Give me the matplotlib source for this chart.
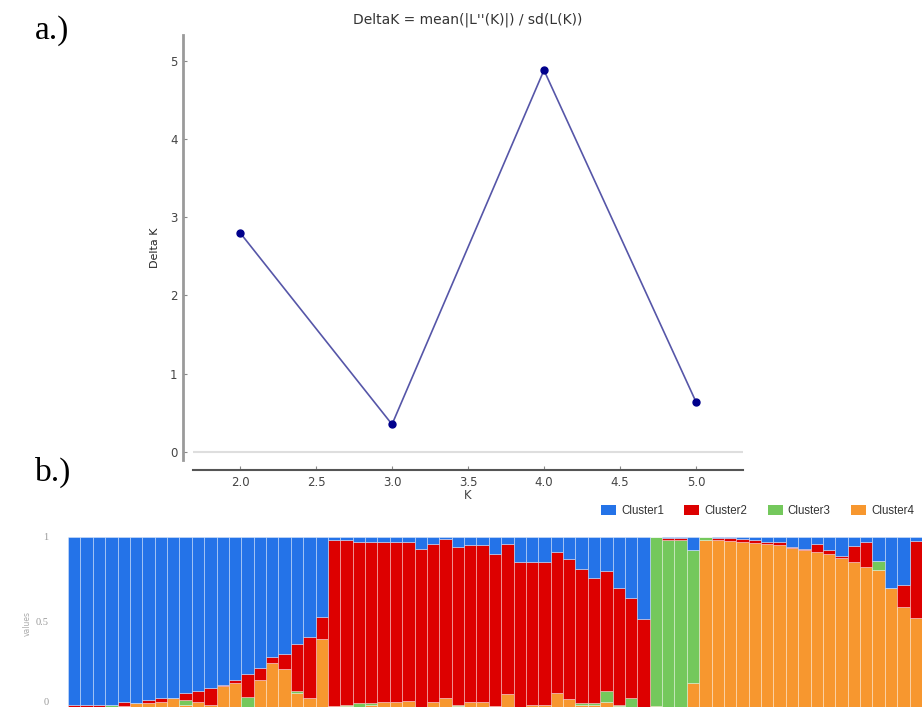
import matplotlib
matplotlib.use("Agg")
import matplotlib.pyplot as plt
from matplotlib.patches import Patch
import numpy as np

# a.) Evanno DeltaK values
k_values = [2.0, 3.0, 4.0, 5.0]
delta_k = [2.80, 0.35, 4.88, 0.64]
x_ticks = [2.0, 2.5, 3.0, 3.5, 4.0, 4.5, 5.0]
y_ticks = [0, 1, 2, 3, 4, 5]

# b.) membership proportions per individual (69 bars)
cluster_names = ["Cluster1", "Cluster2", "Cluster3", "Cluster4"]
cluster_colors = ["#2473e8", "#dd0000", "#74c85c", "#f7972f"]

cluster1 = [0.99, 0.99, 0.99, 0.99, 0.97, 0.98, 0.96, 0.95, 0.95, 0.92,
            0.91, 0.89, 0.87, 0.84, 0.81, 0.77, 0.71, 0.69, 0.63, 0.59,
            0.47,
            0.02, 0.02, 0.03, 0.03, 0.03, 0.03, 0.03, 0.075, 0.04, 0.015,
            0.06, 0.05, 0.05, 0.10, 0.04, 0.15, 0.15, 0.15, 0.09, 0.13,
            0.19, 0.24, 0.20, 0.30, 0.36, 0.485,
            0.00, 0.01, 0.01, 0.08,
            0.00, 0.01, 0.01, 0.015, 0.02, 0.03, 0.03, 0.06, 0.07, 0.045,
            0.08, 0.113, 0.055, 0.029, 0.141, 0.304, 0.285, 0.023]
cluster2 = [0.01, 0.01, 0.01, 0.00, 0.025, 0.00, 0.02, 0.025, 0.00, 0.04,
            0.06, 0.10, 0.01, 0.02, 0.13, 0.07, 0.035, 0.09, 0.28, 0.36,
            0.13,
            0.975, 0.97, 0.95, 0.95, 0.94, 0.94, 0.935, 0.925, 0.93, 0.935,
            0.93, 0.92, 0.92, 0.895, 0.885, 0.85, 0.84, 0.84, 0.83, 0.825,
            0.79, 0.74, 0.71, 0.69, 0.59, 0.515,
            0.00, 0.01, 0.01, 0.00,
            0.00, 0.01, 0.015, 0.015, 0.015, 0.013, 0.02, 0.005, 0.01, 0.045,
            0.024, 0.014, 0.092, 0.147, 0.00, 0.00, 0.131, 0.457]
cluster3 = [0.00, 0.00, 0.00, 0.01, 0.00, 0.00, 0.00, 0.00, 0.00, 0.03,
            0.00, 0.00, 0.00, 0.00, 0.06, 0.00, 0.00, 0.00, 0.01, 0.00,
            0.00,
            0.00, 0.005, 0.02, 0.01, 0.00, 0.00, 0.00, 0.00, 0.00, 0.00,
            0.005, 0.00, 0.00, 0.00, 0.00, 0.00, 0.00, 0.00, 0.00, 0.00,
            0.01, 0.01, 0.06, 0.005, 0.05, 0.00,
            0.995, 0.98, 0.98, 0.78,
            0.02, 0.00, 0.00, 0.00, 0.00, 0.00, 0.00, 0.00, 0.00, 0.00,
            0.00, 0.00, 0.00, 0.00, 0.055, 0.00, 0.00, 0.00]
cluster4 = [0.00, 0.00, 0.00, 0.00, 0.005, 0.02, 0.02, 0.025, 0.05, 0.01,
            0.03, 0.01, 0.12, 0.14, 0.00, 0.16, 0.255, 0.22, 0.08, 0.05,
            0.40,
            0.005, 0.005, 0.00, 0.01, 0.03, 0.03, 0.035, 0.00, 0.03, 0.05,
            0.005, 0.03, 0.03, 0.005, 0.075, 0.00, 0.01, 0.01, 0.08, 0.045,
            0.01, 0.01, 0.03, 0.005, 0.00, 0.00,
            0.005, 0.00, 0.00, 0.14,
            0.98, 0.98, 0.975, 0.97, 0.965, 0.957, 0.95, 0.935, 0.92, 0.91,
            0.896, 0.873, 0.853, 0.824, 0.804, 0.696, 0.584, 0.52]

W, H = 922, 708
fig = plt.figure(figsize=(W / 100, H / 100), dpi=100)

# ---- a.) DeltaK line plot
ax = fig.add_axes([193 / W, 1 - 460 / H, 550 / W, 425 / H])
ax.axhline(0, color="#dedede", lw=1.5, zorder=1)
ax.plot(k_values, delta_k, color="#5656a8", lw=1.2, zorder=2)
ax.plot(k_values, delta_k, "o", color="#00008c", ms=5, zorder=3)
ax.set_xlim(1.69, 5.31)
ax.set_ylim(-0.106, 5.33)
ax.set_xticks(x_ticks)
ax.set_yticks(y_ticks)
ax.set_xticklabels([f"{t:.1f}" for t in x_ticks])
for side in ("top", "right"):
    ax.spines[side].set_visible(False)
ax.spines["left"].set_position(("outward", 7.2))
ax.spines["bottom"].set_position(("outward", 7.2))
ax.spines["left"].set_color("#9a9a9a")
ax.spines["left"].set_linewidth(2)
ax.spines["bottom"].set_color("#555555")
ax.spines["bottom"].set_linewidth(1.5)
ax.tick_params(direction="in", length=3, width=0.8, color="#888888",
               labelcolor="#444444", labelsize=8.5)
ax.tick_params(axis="x", pad=4)
ax.tick_params(axis="y", pad=4)
ax.set_ylabel("Delta K", fontsize=8, color="#222222")
ax.yaxis.set_label_coords(-0.06, 0.5)
ax.set_xlabel("K", fontsize=8.5, color="#444444")
ax.xaxis.set_label_coords(0.5, -0.068)

fig.text(468 / W, 1 - 20 / H, "DeltaK = mean(|L''(K)|) / sd(L(K))",
         ha="center", va="center", fontsize=10, color="#333333")
fig.text(35 / W, 1 - 31 / H, "a.)", family="Liberation Serif",
         fontsize=24, ha="left", va="center")
fig.text(35 / W, 1 - 472 / H, "b.)", family="Liberation Serif",
         fontsize=24, ha="left", va="center")

# ---- b.) stacked membership bars
ax2 = fig.add_axes([68 / W, 1.3 / H, 854 / W, 170 / H])
idx = np.arange(len(cluster1))
# stacking order bottom -> top: Cluster4, Cluster3, Cluster2, Cluster1
stack = [(cluster4, cluster_colors[3]), (cluster3, cluster_colors[2]),
         (cluster2, cluster_colors[1]), (cluster1, cluster_colors[0])]
bottom = np.zeros(len(idx))
for vals, col in stack:
    vals = np.array(vals)
    ax2.bar(idx, vals, bottom=bottom, width=1.0, color=col,
            edgecolor=(1, 1, 1, 0.35), linewidth=0.7)
    bottom += vals
ax2.set_xlim(-0.5, len(idx) - 0.5)
ax2.set_ylim(0, 1)
for side in ax2.spines:
    ax2.spines[side].set_visible(False)
ax2.set_xticks([])
ax2.set_yticks([0, 0.5, 1])
ax2.set_yticklabels(["0", "0.5", "1"], family="Liberation Serif")
ax2.tick_params(axis="y", length=0, pad=14, labelsize=7.5, labelcolor="#999999")
# keep the bottom "0" inside the picture
ax2.get_yticklabels()[0].set_va("bottom")

fig.text(27 / W, 1 - 623 / H, "values", rotation=90, fontsize=5.5,
         color="#aaaaaa", ha="center", va="center")

handles = [Patch(facecolor=c, edgecolor="none") for c in cluster_colors]
fig.legend(handles, cluster_names, ncol=4, loc="center right",
           bbox_to_anchor=(914 / W, 1 - 511 / H), frameon=False,
           prop={"family": "Liberation Sans", "size": 8.3},
           handlelength=1.3, handleheight=0.85, handletextpad=0.45,
           columnspacing=1.75, borderpad=0, borderaxespad=0,
           labelcolor="#333333")

fig.savefig("out.png", dpi=100)
